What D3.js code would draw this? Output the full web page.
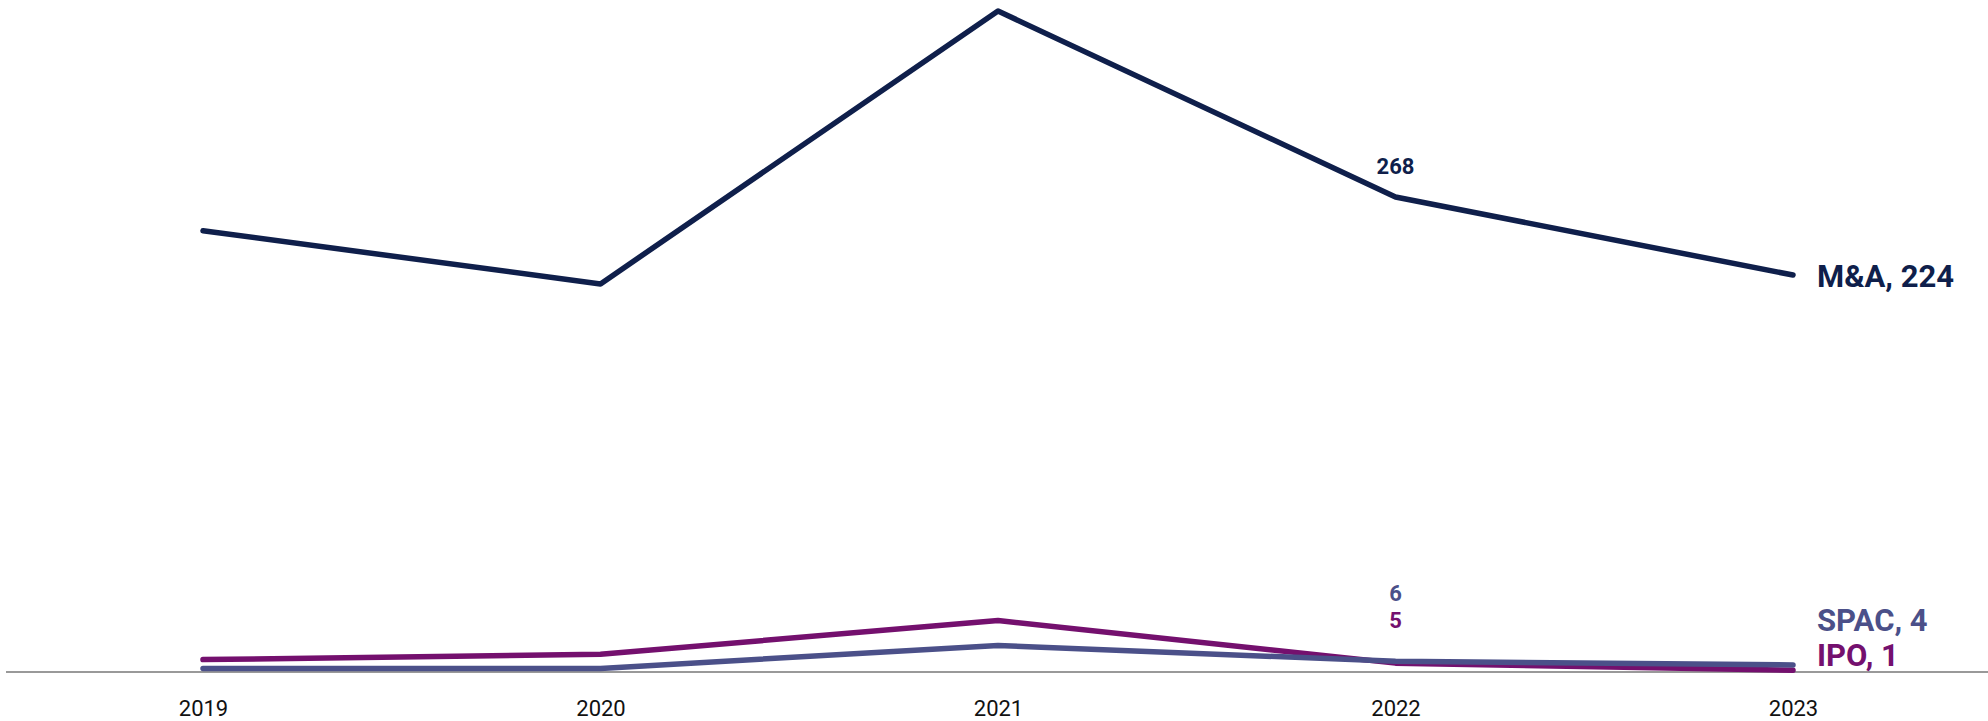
<!DOCTYPE html>
<html><head><meta charset="utf-8">
<script src="https://cdn.jsdelivr.net/npm/d3@7"></script>
<style>html,body{margin:0;padding:0;background:#fff;}svg{display:block;font-family:Roboto,"Noto Sans",sans-serif;}</style>
</head><body>
<svg id="chart" width="1988" height="721"></svg>
<script>
const years = ["2019","2020","2021","2022","2023"];
const maValues = [249, 219, 373, 268, 224];
const spacValues = [2, 2, 15, 6, 4];
const ipoValues = [7, 10, 29, 5, 1];
const seriesNames = ["M&A", "SPAC", "IPO"];
const colors = {"M&A":"#0f1f4b", "SPAC":"#4b5089", "IPO":"#74106e"};

const svg = d3.select("#chart");
const x = d3.scalePoint().domain(years).range([203, 1793]);
const y = d3.scaleLinear().domain([0, 373]).range([672, 11]);

// baseline axis
const xAxis = d3.axisBottom(x).tickSize(0).tickPadding(28);
const ax = svg.append("g").attr("transform","translate(0,672)").call(xAxis);
ax.select(".domain").remove();
ax.selectAll("text").attr("font-size",22).attr("fill","#111").attr("font-family","Roboto");
svg.append("line").attr("x1",6).attr("x2",1988).attr("y1",y(0)).attr("y2",y(0))
  .attr("stroke","#999").attr("stroke-width",2);

const line = d3.line().x((d,i)=>x(years[i])).y(d=>y(d));
const data = {"M&A":maValues, "SPAC":spacValues, "IPO":ipoValues};
["M&A","IPO","SPAC"].forEach(name=>{
  svg.append("path").attr("d", line(data[name])).attr("fill","none")
    .attr("stroke", colors[name]).attr("stroke-width",5.5)
    .attr("stroke-linecap","round").attr("stroke-linejoin","round");
});

// 2022 data labels
const lblIdx = 3;
svg.append("text").attr("x", x(years[lblIdx])).attr("y", y(maValues[lblIdx]) - 23)
  .attr("text-anchor","middle").attr("font-size",22).attr("font-weight","bold")
  .attr("fill",colors["M&A"]).text(maValues[lblIdx]);
svg.append("text").attr("x", x(years[lblIdx])).attr("y", 601)
  .attr("text-anchor","middle").attr("font-size",22).attr("font-weight","bold")
  .attr("fill",colors["SPAC"]).text(spacValues[lblIdx]);
svg.append("text").attr("x", x(years[lblIdx])).attr("y", 628)
  .attr("text-anchor","middle").attr("font-size",22).attr("font-weight","bold")
  .attr("fill",colors["IPO"]).text(ipoValues[lblIdx]);

// end labels
const last = years.length - 1;
const endX = x(years[last]) + 24;
svg.append("text").attr("x", endX).attr("y", y(maValues[last]) + 12)
  .attr("font-size",31).attr("font-weight","bold").attr("fill",colors["M&A"])
  .text(`M&A, ${maValues[last]}`);
svg.append("text").attr("x", endX).attr("y", 631)
  .attr("font-size",31).attr("font-weight","bold").attr("fill",colors["SPAC"])
  .text(`SPAC, ${spacValues[last]}`);
svg.append("text").attr("x", endX).attr("y", 666)
  .attr("font-size",31).attr("font-weight","bold").attr("fill",colors["IPO"])
  .text(`IPO, ${ipoValues[last]}`);
</script>
</body></html>
